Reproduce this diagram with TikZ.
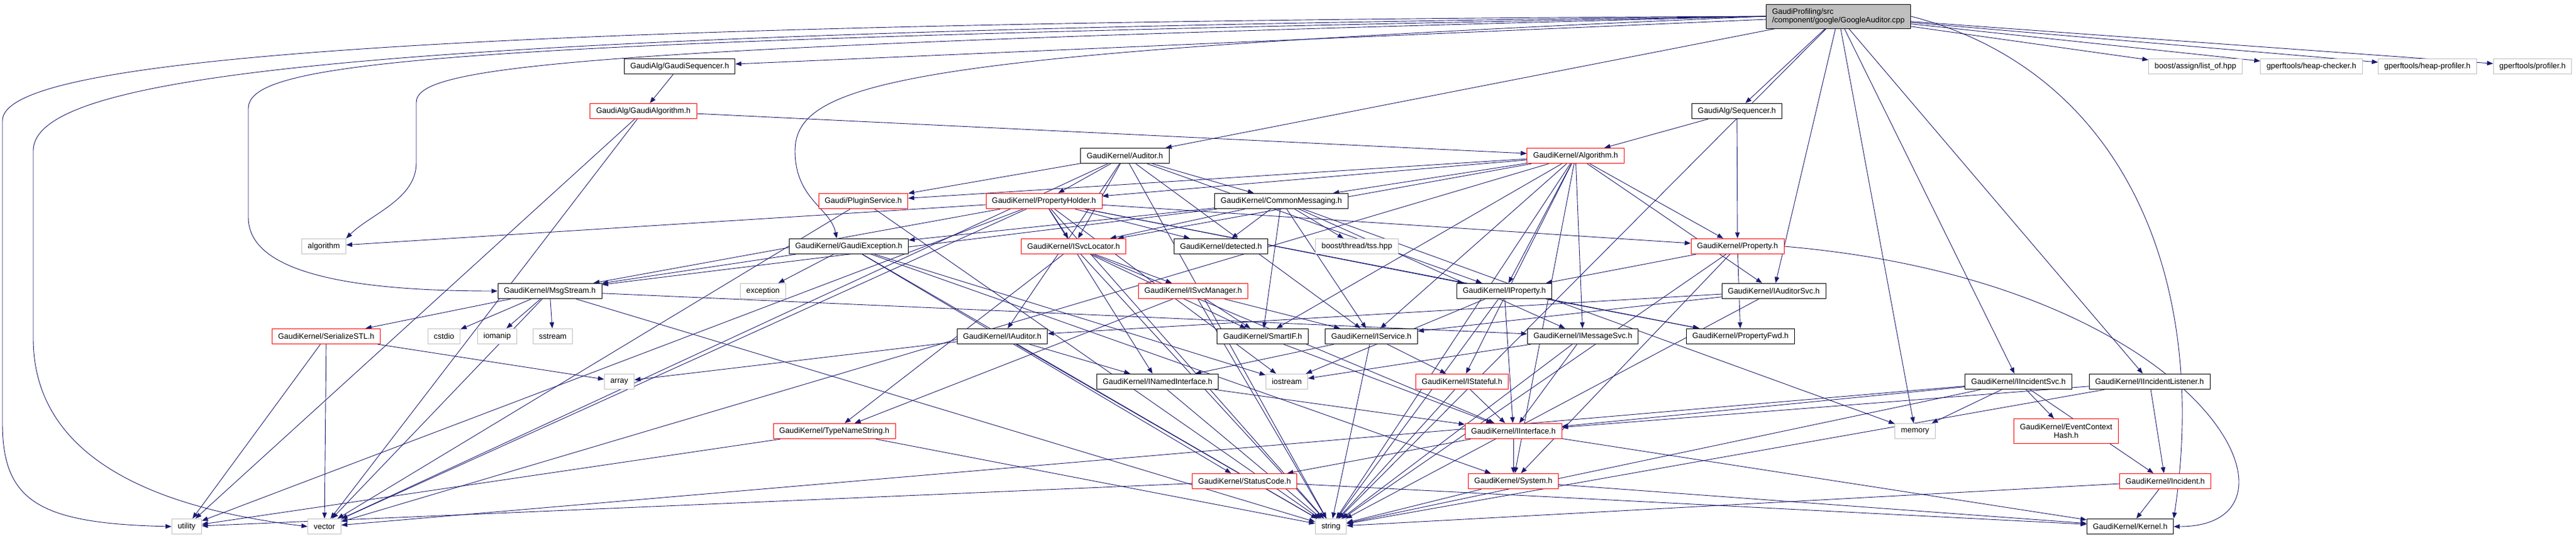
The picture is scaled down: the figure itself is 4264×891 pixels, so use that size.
\documentclass[tikz,border=0pt]{standalone}
\usepackage{fontspec}
\setmainfont{Liberation Sans}
\usetikzlibrary{arrows.meta}

\definecolor{edgeblue}{HTML}{191970}
\definecolor{sysgray}{HTML}{BFBFBF}
\definecolor{cutred}{HTML}{FF0000}

\pgfdeclarelayer{bg}
\pgfsetlayers{bg,main}

\tikzset{
  box/.style={rectangle, fill=white, line width=0.9pt, inner xsep=10pt, inner ysep=0pt,
    minimum height=25.5pt, font=\fontsize{12.9}{14}\selectfont},
  doc/.style={box, draw=black},
  cut/.style={box, draw=cutred},
  sys/.style={box, draw=sysgray},
  incl/.style={draw=edgeblue, line width=0.9pt, -{Triangle[length=10pt,width=7.5pt]}},
}

\begin{document}
\begin{tikzpicture}[x=1pt,y=-1pt]

\useasboundingbox (0,0) rectangle (4264,891);

% the file itself
\node[doc, fill=sysgray, align=left, minimum height=40pt] (main) at (3043,27)
  {GaudiProfiling/src\\/component/google/GoogleAuditor.cpp};

% first level
\node[doc] (gseq) at (1125,110) {GaudiAlg/GaudiSequencer.h};
\node[sys] (listof) at (3634,110) {boost/assign/list\_of.hpp};
\node[sys] (hcheck) at (3826,110) {gperftools/heap-checker.h};
\node[sys] (hprof) at (4018,110) {gperftools/heap-profiler.h};
\node[sys] (prof) at (4192,110) {gperftools/profiler.h};

\node[cut] (galg) at (1065,184) {GaudiAlg/GaudiAlgorithm.h};
\node[doc] (seq) at (2875,184) {GaudiAlg/Sequencer.h};

\node[doc] (auditor) at (1862,258) {GaudiKernel/Auditor.h};
\node[cut] (algo) at (2608,258) {GaudiKernel/Algorithm.h};

\node[cut] (plugin) at (1429,333) {Gaudi/PluginService.h};
\node[cut] (propholder) at (1728,333) {GaudiKernel/PropertyHolder.h};
\node[doc] (commsg) at (2121,333) {GaudiKernel/CommonMessaging.h};

\node[sys] (algorithm) at (536,408) {algorithm};
\node[doc] (gexc) at (1405,408) {GaudiKernel/GaudiException.h};
\node[cut] (svcloc) at (1777,408) {GaudiKernel/ISvcLocator.h};
\node[doc] (detected) at (2021,408) {GaudiKernel/detected.h};
\node[sys] (tss) at (2246,408) {boost/thread/tss.hpp};
\node[cut] (property) at (2876,408) {GaudiKernel/Property.h};

\node[doc] (msgstream) at (910,482) {GaudiKernel/MsgStream.h};
\node[sys] (exception) at (1263,482) {exception};
\node[cut] (svcmgr) at (1975,482) {GaudiKernel/ISvcManager.h};
\node[doc] (iprop) at (2490,482) {GaudiKernel/IProperty.h};
\node[doc] (iaudsvc) at (2936,482) {GaudiKernel/IAuditorSvc.h};

\node[cut] (serial) at (540,557) {GaudiKernel/SerializeSTL.h};
\node[sys] (cstdio) at (735,557) {cstdio};
\node[sys] (iomanip) at (823,557) {iomanip};
\node[sys] (sstream) at (915,557) {sstream};
\node[doc] (iauditor) at (1659,557) {GaudiKernel/IAuditor.h};
\node[doc] (smartif) at (2090,557) {GaudiKernel/SmartIF.h};
\node[doc] (iservice) at (2270,557) {GaudiKernel/IService.h};
\node[doc] (imsgsvc) at (2620,557) {GaudiKernel/IMessageSvc.h};
\node[doc] (propfwd) at (2881,557) {GaudiKernel/PropertyFwd.h};

\node[sys] (array) at (1025,632) {array};
\node[doc] (inamed) at (1916,632) {GaudiKernel/INamedInterface.h};
\node[sys] (iostream) at (2130,632) {iostream};
\node[cut] (istateful) at (2420,632) {GaudiKernel/IStateful.h};
\node[doc] (iincsvc) at (3341,632) {GaudiKernel/IIncidentSvc.h};
\node[doc] (iinclis) at (3558,632) {GaudiKernel/IIncidentListener.h};

\node[cut] (typename) at (1381,714) {GaudiKernel/TypeNameString.h};
\node[cut] (iinterface) at (2505,714) {GaudiKernel/IInterface.h};
\node[sys] (memory) at (3170,714) {memory};
\node[cut, align=center, minimum height=41pt] (evctx) at (3420,714)
  {GaudiKernel/EventContext\\Hash.h};

\node[cut] (statuscode) at (2060,797) {GaudiKernel/StatusCode.h};
\node[cut] (system) at (2505,797) {GaudiKernel/System.h};
\node[cut] (incident) at (3584,797) {GaudiKernel/Incident.h};

\node[sys] (utility) at (309,872) {utility};
\node[sys] (vector) at (537,872) {vector};
\node[sys] (string) at (2203,872) {string};
\node[doc] (kernel) at (3526,872) {GaudiKernel/Kernel.h};

% bends of the long include lines round the left side
\coordinate (wpa) at (4,200);
\coordinate (wpa2) at (4,700);
\coordinate (wpb) at (55,250);
\coordinate (wpb2) at (55,560);
\coordinate (wpc) at (411,180);
\coordinate (wpc2) at (411,360);
\coordinate (wpd) at (689,170);
\coordinate (wpd2) at (689,270);
\coordinate (wpe) at (1316,250);

\begin{pgfonlayer}{bg}
  \foreach \t in {gseq,seq,auditor,iaudsvc,iincsvc,iinclis,memory,string,listof,hcheck,hprof,prof}
    \draw[incl] (main) -- (\t);
  \draw[incl] (main.west) .. controls +(-2400,10) and +(0,-90) .. (wpa) -- (wpa2)
    .. controls +(0,130) and +(-220,-5) .. (utility.west);
  \draw[incl] (main.west) .. controls +(-2300,25) and +(0,-130) .. (wpb) -- (wpb2)
    .. controls +(0,200) and +(-250,-30) .. (vector.west);
  \draw[incl] (main.west) .. controls +(-2200,40) and +(0,-80) .. (wpc) -- (wpc2)
    .. controls +(0,90) and +(-250,0) .. (msgstream.west);
  \draw[incl] (main.west) .. controls +(-2000,50) and +(0,-60) .. (wpd) -- (wpd2)
    .. controls +(0,60) and +(40,-40) .. (algorithm.north east);
  \draw[incl] (main.west) .. controls +(-1400,60) and +(0,-120) .. (wpe)
    .. controls +(0,80) and +(-10,-50) .. ([xshift=-20pt]gexc.north);
  \draw[incl] (main.east) .. controls +(350,90) and +(60,-400) .. (kernel.north east);

  \draw[incl] (gseq) -- (galg);
  \foreach \t in {algo,vector,utility}
    \draw[incl] (galg) -- (\t);
  \foreach \t in {algo,property}
    \draw[incl] (seq) -- (\t);
  \foreach \t in {plugin,propholder,commsg,svcloc,iauditor,iprop,iservice,string,vector}
    \draw[incl] (auditor) -- (\t);
  \foreach \t in {plugin,propholder,commsg,svcloc,property,iprop,iservice,imsgsvc,iaudsvc,istateful,smartif,system,string,vector}
    \draw[incl] (algo) -- (\t);
  \foreach \t in {imsgsvc,svcloc,detected,tss,msgstream,smartif,gexc,memory,iservice}
    \draw[incl] (commsg) -- (\t);
  \foreach \t in {svcloc,detected,property,iprop,inamed,algorithm,iostream,string,vector,utility,msgstream,propfwd}
    \draw[incl] (propholder) -- (\t);
  \foreach \t in {vector,string}
    \draw[incl] (plugin) -- (\t);
  \foreach \t in {msgstream,exception,statuscode,system,iostream,string}
    \draw[incl] (gexc) -- (\t);
  \foreach \t in {svcmgr,typename,smartif,iinterface,string}
    \draw[incl] (svcloc) -- (\t);
  \foreach \t in {smartif,typename,iservice,string}
    \draw[incl] (svcmgr) -- (\t);
  \foreach \t in {serial,cstdio,iomanip,sstream,imsgsvc,string,vector}
    \draw[incl] (msgstream) -- (\t);
  \foreach \t in {array,utility,vector}
    \draw[incl] (serial) -- (\t);
  \foreach \t in {string,utility}
    \draw[incl] (typename) -- (\t);
  \foreach \t in {inamed,array,string}
    \draw[incl] (iauditor) -- (\t);
  \draw[incl] (smartif) -- (iinterface);
  \foreach \t in {inamed,istateful,string}
    \draw[incl] (iservice) -- (\t);
  \foreach \t in {iinterface,iostream,string}
    \draw[incl] (imsgsvc) -- (\t);
  \foreach \t in {propfwd,iinterface,iostream,string}
    \draw[incl] (iprop) -- (\t);
  \foreach \t in {propfwd,iprop,system,string}
    \draw[incl] (property) -- (\t);
  \draw[incl] (property.east) .. controls +(700,60) and +(250,0) .. (kernel.east);
  \foreach \t in {iinterface,string}
    \draw[incl] (inamed) -- (\t);
  \foreach \t in {iinterface,string}
    \draw[incl] (istateful) -- (\t);
  \foreach \t in {statuscode,system,kernel}
    \draw[incl] (iinterface) -- (\t);
  \foreach \t in {utility,kernel}
    \draw[incl] (statuscode) -- (\t);
  \foreach \t in {string,kernel}
    \draw[incl] (system) -- (\t);
  \foreach \t in {iinterface,memory,evctx,incident,string,vector}
    \draw[incl] (iincsvc) -- (\t);
  \foreach \t in {iinterface,incident,string}
    \draw[incl] (iinclis) -- (\t);
  \foreach \t in {kernel,string}
    \draw[incl] (incident) -- (\t);
  \foreach \t in {iservice,iauditor,string}
    \draw[incl] (iaudsvc) -- (\t);
\end{pgfonlayer}

\end{tikzpicture}
\end{document}
